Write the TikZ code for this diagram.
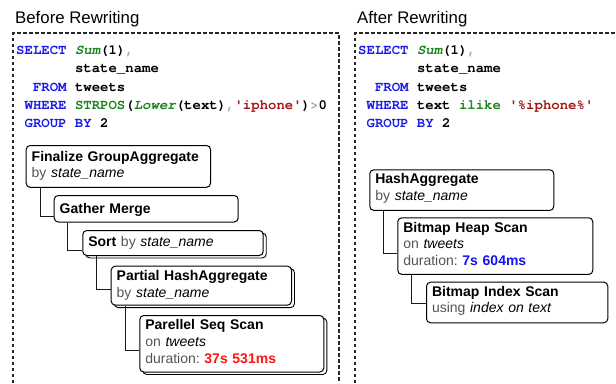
\documentclass[tikz,border=0pt]{standalone}
\usepackage{fontspec}
\setmainfont{Liberation Sans}
\newfontfamily\codefont{texgyrecursor}[Extension=.otf,UprightFont=*-regular,BoldFont=*-bold,ItalicFont=*-italic,BoldItalicFont=*-bolditalic]
\usetikzlibrary{shadows}
\definecolor{kwblue}{RGB}{25,25,235}
\definecolor{fngreen}{RGB}{30,130,30}
\definecolor{strred}{RGB}{165,20,20}
\definecolor{lgray}{RGB}{170,170,170}
\definecolor{tgray}{RGB}{85,85,85}
\definecolor{durred}{RGB}{255,20,20}
\definecolor{durblue}{RGB}{20,20,240}
\newcommand\kwc[1]{{\color{kwblue}#1}}
\newcommand\fnc[1]{{\color{fngreen}#1}}
\newcommand\fni[1]{{\color{fngreen}\itshape#1}}
\newcommand\strc[1]{{\color{strred}#1}}
\newcommand\lgc[1]{{\color{lgray}#1}}
\newcommand\tgc[1]{{\color{tgray}#1}}
\newcommand\chs[1]{\hspace*{#1\dimexpr 8.4pt\relax}}
\newcommand\toppad[1]{\rule{0pt}{#1pt}}
\newcommand\botpad[1]{\rule[-#1pt]{0pt}{#1pt}}
\frenchspacing
\begin{document}
\begin{tikzpicture}[x=1pt,y=-1pt,
  title/.style={anchor=base west,inner sep=0pt,font=\fontsize{16.8}{20}\selectfont},
  code/.style={anchor=base west,inner sep=0pt,align=left,font=\codefont\bfseries\fontsize{14}{18.3}\selectfont},
  frame/.style={draw=black!85,line width=1.2pt,dash pattern=on 3.5pt off 2.5pt},
  pbox/.style={draw=black,line width=1pt,rounded corners=4pt,fill=white,anchor=north west,
    align=left,inner xsep=5.5pt,inner ysep=0pt,font=\frenchspacing\fontsize{14}{16.6}\selectfont},
  parbox/.style={pbox,general shadow={shadow xshift=3pt,shadow yshift=-2.5pt,draw=black,line width=0.9pt,fill=white}},
  conn/.style={draw=black!90,line width=1pt}]
\useasboundingbox (0,0) rectangle (616,383);
\fill[white] (0,0) rectangle (616,383);
% frames
\draw[frame] (13,383) -- (13,33) -- (339,33) -- (339,383);
\draw[frame] (355,383) -- (355,33) -- (616,33);
% titles
\node[title] (t1) at (15,23.5) {Before Rewriting};
\node[title] (t2) at (357,23.5) {After Rewriting};
% code (base anchor = last line)
\node[code] (c1) at (16,127.7) {\kwc{SELECT} \fni{Sum}(1)\lgc{,}\\
\chs{7}state\_name\\
\chs{2}\kwc{FROM} tweets\\
\chs{1}\kwc{WHERE} \fnc{STRPOS}(\fni{Lower}(text)\lgc{,}\strc{\textquotesingle iphone\textquotesingle})\lgc{>}0\\
\chs{1}\kwc{GROUP BY} 2};
\node[code] (c2) at (358,127.7) {\kwc{SELECT} \fni{Sum}(1)\lgc{,}\\
\chs{7}state\_name\\
\chs{2}\kwc{FROM} tweets\\
\chs{1}\kwc{WHERE} text \fnc{ilike} \strc{\textquotesingle\%iphone\%\textquotesingle}\\
\chs{1}\kwc{GROUP BY} 2};
% left plan
\node[pbox,text width=173.3pt] (fin) at (25.7,145)
  {\toppad{15.7}\textbf{Finalize GroupAggregate}\\\tgc{by} \textit{state\_name}\botpad{9.5}};
\node[pbox,text width=173pt] (gm) at (53.7,195)
  {\toppad{17.5}\textbf{Gather Merge}\botpad{9}};
\node[parbox,text width=169.4pt] (srt) at (82.3,230)
  {\toppad{15.7}\textbf{Sort} \tgc{by} \textit{state\_name}\botpad{9.3}};
\node[parbox,text width=169.3pt] (pha) at (110.7,265.7)
  {\toppad{14.3}\textbf{Partial HashAggregate}\\\tgc{by} \textit{state\_name}\botpad{8}};
\node[parbox,text width=173pt] (pss) at (139.3,315)
  {\toppad{14.3}\textbf{Parellel Seq Scan}\\\tgc{on} \textit{tweets}\\\tgc{duration:} \textbf{\color{durred}37s 531ms}\botpad{9}};
\draw[conn] ([xshift=15pt]fin.south west) |- ([yshift=6pt]gm.south west);
\draw[conn] ([xshift=14pt]gm.south west) |- ([yshift=6pt]srt.south west);
\draw[conn] ([xshift=14.4pt]srt.south west) |- ([yshift=16.6pt]pha.south west);
\draw[conn] ([xshift=14.3pt]pha.south west) |- ([yshift=21.7pt]pss.south west);
% right plan
\node[pbox,text width=173pt] (ha) at (369.3,169.3)
  {\toppad{14}\textbf{HashAggregate}\\\tgc{by} \textit{state\_name}\botpad{10}};
\node[pbox,text width=184pt] (bhs) at (397.3,217.3)
  {\toppad{14.4}\textbf{Bitmap Heap Scan}\\\tgc{on} \textit{tweets}\\\tgc{duration:} \textbf{\color{durblue}7s 604ms}\botpad{9}};
\node[pbox,text width=170.3pt] (bis) at (426,281.7)
  {\toppad{14}\textbf{Bitmap Index Scan}\\\tgc{using} \textit{index on text}\botpad{10}};
\draw[conn] ([xshift=14pt]ha.south west) |- ([yshift=21.7pt]bhs.south west);
\draw[conn] ([xshift=14.4pt]bhs.south west) |- ([yshift=19.4pt]bis.south west);
\end{tikzpicture}
\end{document}
